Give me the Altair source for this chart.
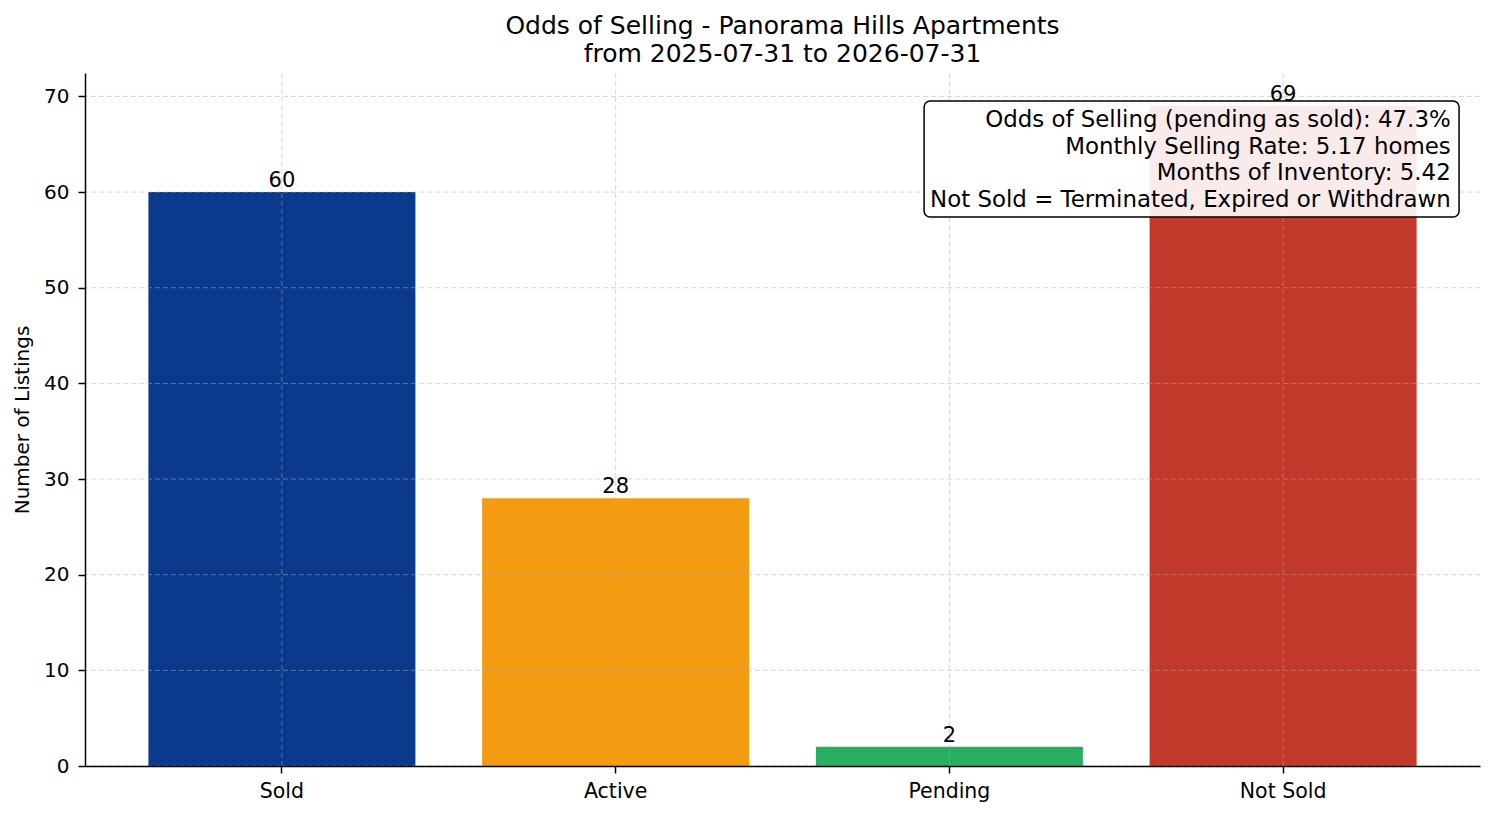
import altair as alt
import pandas as pd

categories = ["Sold", "Active", "Pending", "Not Sold"]
counts = [60, 28, 2, 69]
colors = ["#0b3a8c", "#f39c12", "#27ae60", "#c0392b"]
y_ticks = [0, 10, 20, 30, 40, 50, 60, 70]
info_lines = [
    "Odds of Selling (pending as sold): 47.3%",
    "Monthly Selling Rate: 5.17 homes",
    "Months of Inventory: 5.42",
    "Not Sold = Terminated, Expired or Withdrawn",
]
title_lines = ["Odds of Selling - Panorama Hills Apartments", "from 2025-07-31 to 2026-07-31"]

W, H = 1395, 693
FONT = "DejaVu Sans"

df = pd.DataFrame({"status": categories, "count": counts, "color": colors})
grid_df = pd.DataFrame({"v": y_ticks})
cat_df = pd.DataFrame({"status": categories})

x_scale = alt.Scale(domain=categories, paddingInner=0.2, paddingOuter=0.19)
y_scale = alt.Scale(domain=[0, 72.45], nice=False, zero=True)

x_enc = alt.X("status:N", scale=x_scale, sort=categories,
              axis=alt.Axis(title=None, labelAngle=0, grid=False, bandPosition=0.5,
                            labelFontSize=20.5, labelColor="black", labelPadding=8,
                            tickSize=7, tickColor="black", tickWidth=1.5,
                            domainColor="black", domainWidth=1.5, zindex=1))
y_enc = alt.Y("count:Q", scale=y_scale,
              axis=alt.Axis(title="Number of Listings", values=y_ticks, grid=False,
                            labelFontSize=20, labelColor="black", labelPadding=9,
                            tickSize=7, tickColor="black", tickWidth=1.5,
                            domainColor="black", domainWidth=1.5,
                            titleFontSize=20, titleFontWeight="normal", titleColor="black",
                            titlePadding=11, zindex=1))

bars = alt.Chart(df).mark_bar().encode(
    x=x_enc,
    y=y_enc,
    color=alt.Color("color:N", scale=None),
)

ygrid = alt.Chart(grid_df).mark_rule(stroke="#b0b0b0", strokeOpacity=0.5, strokeWidth=1,
                                     strokeDash=[5, 3]).encode(
    y=alt.Y("v:Q", scale=y_scale)
)
xgrid = alt.Chart(cat_df).mark_rule(stroke="#b0b0b0", strokeOpacity=0.5, strokeWidth=1,
                                    strokeDash=[5, 3]).encode(
    x=alt.X("status:N", scale=x_scale, sort=categories)
)

labels = alt.Chart(df).mark_text(fontSize=21, color="black", baseline="alphabetic", dy=-5).encode(
    x=alt.X("status:N", scale=x_scale, sort=categories),
    y=alt.Y("count:Q", scale=y_scale),
    text=alt.Text("count:Q"),
)

box = alt.Chart(pd.DataFrame({"k": [0]})).mark_rect(
    fill="white", fillOpacity=0.9, stroke="black", strokeWidth=1.5, cornerRadius=6
).encode(
    x=alt.value(W * 0.6015), x2=alt.value(W * 0.985),
    y=alt.value(H * 0.0404), y2=alt.value(H * 0.2078),
)

info = alt.Chart(pd.DataFrame({"t": [info_lines]})).mark_text(
    align="right", baseline="top", fontSize=22.9, lineHeight=26.7, color="black"
).encode(
    x=alt.value(W * 0.979), y=alt.value(H * 0.052),
    text="t",
)

chart = alt.layer(bars, ygrid, xgrid, labels, box, info).properties(
    width=W, height=H,
    title=alt.TitleParams(text=title_lines, fontSize=25, fontWeight="normal", color="black",
                          anchor="middle", lineHeight=28, offset=6),
    autosize=alt.AutoSizeParams(type="none"),
    padding={"left": 77, "top": 65, "right": 6, "bottom": 42},
).configure(font=FONT).configure_view(stroke=None)

chart.save("out.html", embed_options={"renderer": "svg", "actions": False})
